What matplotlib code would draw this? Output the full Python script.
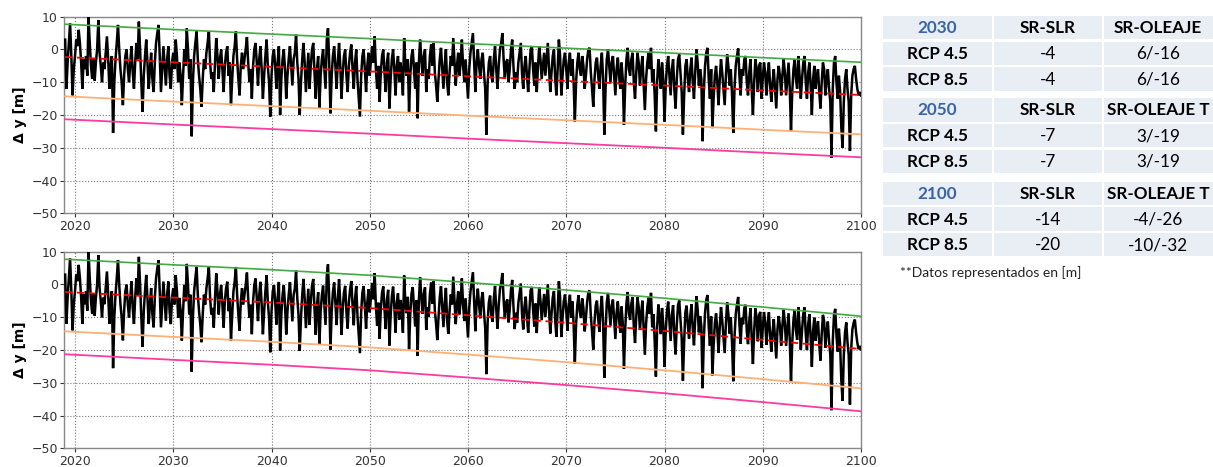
import numpy as np
import matplotlib
matplotlib.use("Agg")
import matplotlib.pyplot as plt
from matplotlib.patches import Rectangle

# ---------------- data ----------------
# shoreline position (RCP 4.5 panel), 8 samples per year starting 2019.0
shoreline_rcp45 = [
    3, -12, -4, 2, 8, -2, -14, -6,          # 2019
    -2, 3, 1, 6, 2, -4, -12, -3,            # 2020
    -6, -2, -8, 10, 2, -5, -9, -3,          # 2021
    -9.5, -4, 0, 9, -1, -5, -10, -4,        # 2022
    -6, -1, 4, -3, -12, -5, -2, -25.5,      # 2023
    -10, -3, 2, 7.5, 0, -6, -10, -17,       # 2024
    -8, -2, 0, -6, -10, -4, 1, -7,          # 2025
    -12, -4, 2, -3, 8.5, 0, -10, -19,       # 2026
    -8, -2, 3, -4, -12, -6, -1, -9,         # 2027
    -13, -4, 2, 5, 7.5, -2, -13, -6,        # 2028
    1, -5, -11, -3, 1, -8, -12, -4,         # 2029
    -1, -6, 3, -2, -10, -4, -8, -17,        # 2030
    -8, 0, -5, 6.4, 0, -9, -3, -26.5,       # 2031
    -10, -2, 2, 5.5, -3, -8, -12, -17.5,    # 2032
    -9, -3, -6, -1, 2, 5.5, -4, -9,         # 2033
    -7, -13, -4, 3.5, -2, -9, -3, 0,        # 2034
    -6, -13, -5, -1, 1, -8, -4, -17,        # 2035
    -9, -2, 1, 5.5, -3, -9, -14, -5,        # 2036
    -1, -6, -3, 0, 3.8, -4, -10, -6,        # 2037
    -15, -5, 0, 2, -4, -11, -3, 1,          # 2038
    -6, -15, -8, -2, 3, -5, -10, -20.5,     # 2039
    -8, -2, 0, -5, -12, -4, 1, -20,         # 2040
    -9, -3, 0, -6, -15, -8, -3, 1,          # 2041
    -5, -11, -3, -1, 4.5, -4, -9, -20,      # 2042
    -10, -3, 2, -4, -13, -7, -1, -12,       # 2043
    -5, 0, 2, -7, -15, -6, -2, -18,         # 2044
    -8, -3, 0, -6, -12, 3, 6.5, -4,         # 2045
    -19.5, -8, -2, 1, -5, -12, -4, 2,       # 2046
    -5, -15, -7, -2, 0, -8, -13, -5,        # 2047
    -1, 1.5, -6, -12, -4, 0, -9, -15,       # 2048
    -20.5, -8, -2, 0, -6, -13, -5, -1,      # 2049
    -8, -3, 1, -4, 4, -6, -12, -5,          # 2050
    -16, -7, -2, 0, -7, -13, -4, -1,        # 2051
    -18, -9, -3, 0, -6, -14, -5, -2,        # 2052
    -10, -4, -7, -14, 3.5, -5, -8, -3,      # 2053
    -19, -8, -2, 0, -6, -12, -4, -21,       # 2054
    -4, 3, -3, -8, -2, 0, -13, -6,          # 2055
    -9, -2, 1.5, -5, 2, -7, -11, -16,       # 2056
    -9, -3, 0.5, -6, -12, -5, 0, -10,       # 2057
    -14, -7, -2, -5, 3.5, -4, -11, -5,      # 2058
    -1, -8, -4, 3, -5, -10, -3, -9,         # 2059
    -15, -6, -1, 2, 5, -4, -13, -4,         # 2060
    0, -5, -9, -3, -1, -7, -12, -26,        # 2061
    -10, -4, -2, -8, -10, -3, 1, -6,        # 2062
    -12, -5, 0, 2, 5, -3, -9, -4,           # 2063
    -3, -10, -6, 0, 3, -5, -12, -7,         # 2064
    -10, -4, -1, 2, -7.5, -12, -5, -2,      # 2065
    -8, -13, -6, 0, 1, -6, -11, -4,         # 2066
    -13, -5, 1, -3, -9, -5, -1, -8,         # 2067
    -3, 2, -6, -13, -7, -2, 0, -9,          # 2068
    -14, -6, 3, -2, -14, -8, -3, -1,        # 2069
    -6, -12, -4, -1, -8, -3, -10, -22,      # 2070
    -10, -4, -1, -6, -8, -2, -5, -12,       # 2071
    -8, -3, 0, 0.5, -7, -12, -17.5, -9,     # 2072
    -4, -2.5, -8, -12, -5, -1, -9, -26,     # 2073
    -12, -3, 0, -5, -10, -4, -2, -8,        # 2074
    -14, -6, -2.5, -8, -12, -4, -9, -23,    # 2075
    -11, -3, 0.5, -6, -8, -3, -1, -10,      # 2076
    -15, -7, -1, -4, -11, -6, -2, -10,      # 2077
    -18.5, -9, -4, -1, -6, 0.5, -10, -6,    # 2078
    -14, -25, -10, -3, -7, -12, -4, -9,     # 2079
    -22, -11, -5, -2, -8, -14, -6, -3,      # 2080
    -12, -18, -9, -3, -1.5, -7, -13, -26,   # 2081
    -14, -5, -3, -9, -13, -6, -2.5, -10,    # 2082
    -15, -7, 0, -4, -11, -6, -9, -28,       # 2083
    -13, -5, -1, 0.5, -9, -15, -6, -24,     # 2084
    -15, -8, -5, -10, -17, -9, -3, -7,      # 2085
    -12, -17, -8, -1.5, -5, -11, -6, -14,   # 2086
    -25.5, -12, -5, -2, 0.3, -8, -14, -6,   # 2087
    -8, -3, -2, -10, -14, -7, -3, -12,      # 2088
    -20, -10, -3, -6, -13, -5, -4, -15,     # 2089
    -9, -4, -7, -14, -8, -4, -11, -16,      # 2090
    -10, -6, -12, -18, -9, -5, -8, -14,     # 2091
    -8, -3, -7, -14, -9, -4, -12, -25,      # 2092
    -13, -6, -3, -9, -12, -2, -8, -15,      # 2093
    -9, -4, -2, -10, -15, -7, -4, -11,      # 2094
    -20, -9, -5, -12, -8, -6, -13, -18,     # 2095
    -10, -4, -6, -14, -9, -6, -12, -16,     # 2096
    -33, -12, -4, -2, -10, -15, -8, -13,    # 2097
    -24, -30, -16, -9, -6, -12, -16, -31,   # 2098
    -14, -8, -6, -5, -9, -12, -14, -13,     # 2099
    -14,                                    # 2100
]
start_year = 2019.0
samples_per_year = 8

# sea-level-rise driven shoreline trend (red dashed) per scenario
slr_years = [2019, 2030, 2040, 2050, 2060, 2070, 2080, 2090, 2100]
slr_rcp45 = [-2.3, -3.9, -5.3, -6.7, -8.2, -9.6, -11.0, -12.5, -13.9]
slr_rcp85 = [-2.3, -4.0, -5.5, -7.2, -9.4, -11.7, -14.2, -16.9, -19.7]

# wave-driven envelope offsets relative to the SLR trend
wave_upper = 10
wave_lower = -12
wave_extreme = -19

x_ticks = [2020, 2030, 2040, 2050, 2060, 2070, 2080, 2090, 2100]
y_ticks = [-50, -40, -30, -20, -10, 0, 10]

# table
table_years = ["2030", "2050", "2100"]
table_cols = [["SR-SLR", "SR-OLEAJE"], ["SR-SLR", "SR-OLEAJE T"], ["SR-SLR", "SR-OLEAJE T"]]
scenarios = ["RCP 4.5", "RCP 8.5"]
sr_slr = [["-4", "-4"], ["-7", "-7"], ["-14", "-20"]]
sr_oleaje = [["6/-16", "6/-16"], ["3/-19", "3/-19"], ["-4/-26", "-10/-32"]]
footnote = "**Datos representados en [m]"

# ---------------- figure ----------------
W, H = 1213, 467
fig = plt.figure(figsize=(W / 100, H / 100), dpi=100)

t = start_year + np.arange(len(shoreline_rcp45)) / samples_per_year
y45 = np.array(shoreline_rcp45, dtype=float)
y85 = y45 + np.interp(t, slr_years, slr_rcp85) - np.interp(t, slr_years, slr_rcp45)

panels = [
    (y45, np.array(slr_rcp45), [64, 16.7, 861, 213.3]),
    (y85, np.array(slr_rcp85), [64, 251.7, 861, 448.3]),
]

for series, slr, (x0, y0, x1, y1) in panels:
    ax = fig.add_axes([x0 / W, 1 - y1 / H, (x1 - x0) / W, (y1 - y0) / H])
    ax.plot(t, series, color="black", lw=1.8, zorder=3, solid_joinstyle="miter")
    ax.plot(slr_years, slr + wave_upper, color="#45a845", lw=1.2, zorder=4)
    ax.plot(slr_years, slr, color="red", lw=1.3, ls=(0, (4, 2.5)), zorder=4)
    ax.plot(slr_years, slr + wave_lower, color="#ffb077", lw=1.3, zorder=4)
    ax.plot(slr_years, slr + wave_extreme, color="#ff3aa0", lw=1.3, zorder=4)
    ax.set_xlim(2018.88, 2100)
    ax.set_ylim(-50, 10)
    ax.set_xticks(x_ticks)
    ax.set_yticks(y_ticks)
    ax.grid(True, color="#777777", ls=":", lw=0.8)
    ax.tick_params(labelsize=9, colors="#333333", length=3, pad=1.5)
    for sp in ax.spines.values():
        sp.set_color("#888888")
        sp.set_linewidth(1.0)
    ax.set_ylabel("Δ y [m]", fontsize=10, fontweight="bold", labelpad=3)

# ---------------- table ----------------
tab = fig.add_axes([0, 0, 1, 1])
tab.set_xlim(0, W)
tab.set_ylim(H, 0)
tab.axis("off")
tab.patch.set_visible(False)

col_edges = [(883, 992), (993.5, 1102), (1103.5, 1213)]
block_tops = [16, 98.3, 181.7]
row_h = 23.3
row_pitch = 25.7
cell_color = "#e9edf4"
tfont = "Lato"

for b, top in enumerate(block_tops):
    rows = [
        [table_years[b], table_cols[b][0], table_cols[b][1]],
        [scenarios[0], sr_slr[b][0], sr_oleaje[b][0]],
        [scenarios[1], sr_slr[b][1], sr_oleaje[b][1]],
    ]
    for r, row in enumerate(rows):
        ytop = top + r * row_pitch
        for c, txt in enumerate(row):
            xl, xr = col_edges[c]
            tab.add_patch(Rectangle((xl, ytop), xr - xl, row_h, facecolor=cell_color,
                                    edgecolor="none"))
            if r == 0 and c == 0:
                color, weight = "#3a65a3", "bold"
            elif r == 0 or c == 0:
                color, weight = "black", "bold"
            else:
                color, weight = "black", "normal"
            tab.text((xl + xr) / 2, ytop + row_h / 2 + 0.5, txt, ha="center", va="center",
                     fontsize=12.3, fontweight=weight, color=color, family=tfont)

tab.text(900, 273, footnote, ha="left", va="center", fontsize=10, family=tfont, color="#222222")

fig.savefig("out.png", dpi=100)
